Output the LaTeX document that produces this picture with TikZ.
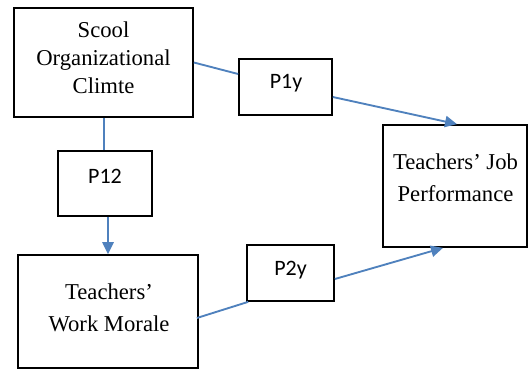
\documentclass[tikz,border=0pt]{standalone}
\usepackage{fontspec}
\setmainfont{Liberation Serif}
\newfontfamily\plabel{Carlito}
\usetikzlibrary{calc,arrows.meta}
\definecolor{linkblue}{HTML}{4F81BD}
\tikzset{
  box/.style={draw=black, line width=1.3pt, inner sep=0pt, rectangle},
  boxtext/.style={align=center, inner sep=0pt, font=\fontsize{17}{21}\selectfont},
  ptext/.style={inner sep=0pt, font=\plabel\fontsize{16.5}{19}\selectfont},
  link/.style={draw=linkblue, line width=1.4pt},
  arrowlink/.style={link, -{Triangle[length=9pt,width=8.5pt]}}
}
\begin{document}
\begin{tikzpicture}[x=0.75pt,y=-0.75pt]
\useasboundingbox (0,0) rectangle (528,372);
% boxes
\node[box, minimum width=179*0.75pt, minimum height=109*0.75pt] (A) at (103.5,62.5) {};
\node[box, minimum width=94*0.75pt, minimum height=65*0.75pt] (P12) at (105,183.5) {};
\node[box, minimum width=180*0.75pt, minimum height=113*0.75pt] (M) at (108,311.5) {};
\node[box, minimum width=93*0.75pt, minimum height=56*0.75pt] (P1y) at (285.5,87) {};
\node[box, minimum width=87*0.75pt, minimum height=56*0.75pt] (P2y) at (290.5,273) {};
\node[box, minimum width=144*0.75pt, minimum height=122*0.75pt] (J) at (455,186) {};
% texts
\node[boxtext] (tA) at (103.5,58) {Scool\\Organizational\\Climte};
\node[boxtext, font=\fontsize{17}{24}\selectfont] (tJ) at (455.5,177.5) {Teachers’ Job\\Performance};
\node[boxtext, font=\fontsize{17}{24}\selectfont] (tM) at (109,307.5) {Teachers’\\Work Morale};
\node[ptext] (t1y) at (286,83.5) {P1y};
\node[ptext] (t12) at (105,176.5) {P12};
\node[ptext] (t2y) at (290.5,270) {P2y};
% connectors
\draw[link] (A.east) -- ($(P1y.west)+(0,-13)$);
\draw[arrowlink] ($(P1y.east)+(0,10)$) -- ($(J.north)+(2,0)$);
\draw[link] ($(A.south)+(0.5,0)$) -- ($(A.south |- P12.north)+(0.5,0)$);
\draw[arrowlink] (M.north |- P12.south) -- (M.north);
\draw[link] ($(M.east)+(-2,6.5)$) -- ($(P2y.south west)+(2,0)$);
\draw[arrowlink] ($(P2y.east)+(0,6)$) -- ($(J.south)+(-12,0)$);
\end{tikzpicture}
\end{document}
